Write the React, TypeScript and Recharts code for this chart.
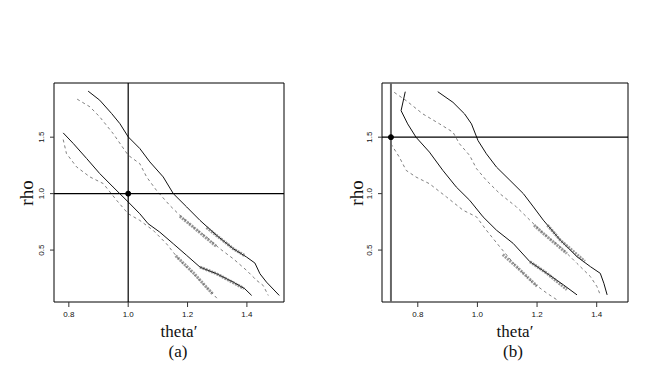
import React from "react"
import {
  ComposedChart, Line, XAxis, YAxis, ReferenceLine, ReferenceDot, ReferenceArea,
} from "recharts"

type Pt = { x: number; y: number }

// panel (a): contours around the (1.0, 1.0) point
const aOuterSolid: Pt[] = [
  { x: 0.865, y: 1.908 }, { x: 0.904, y: 1.828 }, { x: 0.944, y: 1.71 }, { x: 0.972, y: 1.62 },
  { x: 1.0, y: 1.503 }, { x: 1.039, y: 1.4 }, { x: 1.073, y: 1.281 }, { x: 1.118, y: 1.148 },
  { x: 1.152, y: 1.0 }, { x: 1.197, y: 0.882 }, { x: 1.242, y: 0.763 }, { x: 1.298, y: 0.63 },
  { x: 1.354, y: 0.512 }, { x: 1.399, y: 0.438 }, { x: 1.427, y: 0.385 }, { x: 1.444, y: 0.29 },
  { x: 1.466, y: 0.216 }, { x: 1.509, y: 0.098 },
]
const aOuterDashed: Pt[] = [
  { x: 0.828, y: 1.837 }, { x: 0.871, y: 1.769 }, { x: 0.904, y: 1.68 }, { x: 0.949, y: 1.533 },
  { x: 1.0, y: 1.34 }, { x: 1.039, y: 1.266 }, { x: 1.062, y: 1.148 }, { x: 1.095, y: 1.03 },
  { x: 1.14, y: 0.896 }, { x: 1.174, y: 0.808 }, { x: 1.219, y: 0.704 }, { x: 1.264, y: 0.615 },
  { x: 1.309, y: 0.512 }, { x: 1.354, y: 0.423 }, { x: 1.399, y: 0.32 }, { x: 1.433, y: 0.231 },
  { x: 1.455, y: 0.186 }, { x: 1.472, y: 0.098 },
]
const aInnerSolid: Pt[] = [
  { x: 0.781, y: 1.538 }, { x: 0.815, y: 1.444 }, { x: 0.86, y: 1.311 }, { x: 0.904, y: 1.178 },
  { x: 0.949, y: 1.059 }, { x: 1.0, y: 0.926 }, { x: 1.039, y: 0.822 }, { x: 1.067, y: 0.734 },
  { x: 1.106, y: 0.66 }, { x: 1.152, y: 0.556 }, { x: 1.197, y: 0.453 }, { x: 1.242, y: 0.349 },
  { x: 1.298, y: 0.29 }, { x: 1.354, y: 0.216 }, { x: 1.393, y: 0.157 }, { x: 1.416, y: 0.098 },
]
const aInnerDashed: Pt[] = [
  { x: 0.781, y: 1.479 }, { x: 0.792, y: 1.355 }, { x: 0.826, y: 1.237 }, { x: 0.871, y: 1.148 },
  { x: 0.916, y: 1.089 }, { x: 0.961, y: 0.941 }, { x: 1.0, y: 0.822 }, { x: 1.039, y: 0.763 },
  { x: 1.084, y: 0.675 }, { x: 1.129, y: 0.556 }, { x: 1.174, y: 0.408 }, { x: 1.219, y: 0.29 },
  { x: 1.264, y: 0.172 }, { x: 1.303, y: 0.062 },
]
// smudged in-line contour labels
const aLabels: Pt[][] = [
  [{ x: 1.174, y: 0.8 }, { x: 1.219, y: 0.704 }, { x: 1.298, y: 0.53 }],
  [{ x: 1.264, y: 0.7 }, { x: 1.354, y: 0.512 }, { x: 1.393, y: 0.45 }],
  [{ x: 1.242, y: 0.349 }, { x: 1.298, y: 0.29 }, { x: 1.39, y: 0.16 }],
  [{ x: 1.16, y: 0.45 }, { x: 1.219, y: 0.3 }, { x: 1.285, y: 0.11 }],
]

// panel (b): contours around the (0.71, 1.5) point
const bOuterSolid: Pt[] = [
  { x: 0.867, y: 1.903 }, { x: 0.918, y: 1.809 }, { x: 0.957, y: 1.706 }, { x: 0.98, y: 1.618 },
  { x: 1.002, y: 1.47 }, { x: 1.03, y: 1.353 }, { x: 1.064, y: 1.235 }, { x: 1.109, y: 1.118 },
  { x: 1.154, y: 1.0 }, { x: 1.188, y: 0.882 }, { x: 1.221, y: 0.765 }, { x: 1.278, y: 0.588 },
  { x: 1.334, y: 0.441 }, { x: 1.379, y: 0.353 }, { x: 1.412, y: 0.294 }, { x: 1.424, y: 0.206 },
  { x: 1.435, y: 0.103 },
]
const bOuterDashed: Pt[] = [
  { x: 0.721, y: 1.897 }, { x: 0.761, y: 1.824 }, { x: 0.817, y: 1.706 }, { x: 0.873, y: 1.618 },
  { x: 0.918, y: 1.544 }, { x: 0.94, y: 1.441 }, { x: 0.974, y: 1.338 }, { x: 0.997, y: 1.221 },
  { x: 1.03, y: 1.118 }, { x: 1.075, y: 1.0 }, { x: 1.131, y: 0.882 }, { x: 1.176, y: 0.765 },
  { x: 1.221, y: 0.647 }, { x: 1.278, y: 0.529 }, { x: 1.334, y: 0.382 }, { x: 1.379, y: 0.265 },
  { x: 1.401, y: 0.176 }, { x: 1.412, y: 0.103 },
]
const bInnerSolid: Pt[] = [
  { x: 0.758, y: 1.903 }, { x: 0.744, y: 1.735 }, { x: 0.766, y: 1.618 }, { x: 0.794, y: 1.5 },
  { x: 0.839, y: 1.368 }, { x: 0.884, y: 1.206 }, { x: 0.929, y: 1.059 }, { x: 0.974, y: 0.941 },
  { x: 1.019, y: 0.794 }, { x: 1.064, y: 0.676 }, { x: 1.12, y: 0.559 }, { x: 1.176, y: 0.397 },
  { x: 1.233, y: 0.294 }, { x: 1.289, y: 0.191 }, { x: 1.334, y: 0.103 },
]
const bInnerDashed: Pt[] = [
  { x: 0.71, y: 1.441 }, { x: 0.738, y: 1.324 }, { x: 0.761, y: 1.206 }, { x: 0.794, y: 1.147 },
  { x: 0.839, y: 1.088 }, { x: 0.896, y: 0.971 }, { x: 0.952, y: 0.853 }, { x: 0.997, y: 0.794 },
  { x: 1.03, y: 0.676 }, { x: 1.075, y: 0.529 }, { x: 1.131, y: 0.353 }, { x: 1.188, y: 0.206 },
  { x: 1.233, y: 0.118 }, { x: 1.267, y: 0.059 },
]
const bLabels: Pt[][] = [
  [{ x: 1.235, y: 0.72 }, { x: 1.278, y: 0.588 }, { x: 1.36, y: 0.4 }],
  [{ x: 1.19, y: 0.72 }, { x: 1.221, y: 0.647 }, { x: 1.3, y: 0.47 }],
  [{ x: 1.176, y: 0.397 }, { x: 1.233, y: 0.294 }, { x: 1.3, y: 0.15 }],
  [{ x: 1.085, y: 0.46 }, { x: 1.131, y: 0.353 }, { x: 1.2, y: 0.18 }],
]

const xTicks = [0.8, 1.0, 1.2, 1.4]
const yTicks = [0.5, 1.0, 1.5]

const tickFont = "'Liberation Sans', Arial, sans-serif"
const serif = "'Liberation Serif', 'Times New Roman', serif"

const XTick = (props: any) => {
  const { x, y, payload } = props
  return (
    <text x={x} y={y + 8} textAnchor="middle" fontSize={8} fontFamily={tickFont} fill="#111">
      {payload.value.toFixed(1)}
    </text>
  )
}

const YTick = (props: any) => {
  const { x, y, payload } = props
  return (
    <text
      x={x - 6}
      y={y}
      transform={`rotate(-90, ${x - 6}, ${y})`}
      textAnchor="middle"
      dominantBaseline="central"
      fontSize={8}
      fontFamily={tickFont}
      fill="#111"
    >
      {payload.value.toFixed(1)}
    </text>
  )
}

interface PanelProps {
  xDomain: [number, number]
  yDomain: [number, number]
  outerSolid: Pt[]
  outerDashed: Pt[]
  innerSolid: Pt[]
  innerDashed: Pt[]
  labels: Pt[][]
  point: Pt
  marginLeft: number
  marginRight: number
  vColor: string
  vWidth: number
}

function Panel(p: PanelProps) {
  const solid = (data: Pt[], key: string) => (
    <Line key={key} data={data} dataKey="y" type="linear" stroke="#111" strokeWidth={1}
      dot={false} isAnimationActive={false} />
  )
  const dashed = (data: Pt[], key: string) => (
    <Line key={key} data={data} dataKey="y" type="linear" stroke="#808080" strokeWidth={1}
      strokeDasharray="3 3" dot={false} isAnimationActive={false} />
  )
  return (
    <ComposedChart
      width={333}
      height={379}
      margin={{ top: 83, right: p.marginRight, bottom: 47, left: p.marginLeft }}
    >
      <XAxis type="number" dataKey="x" domain={p.xDomain} ticks={xTicks} allowDataOverflow
        axisLine={false} tickSize={5} tickLine={{ stroke: "#333" }} tick={<XTick />} height={30} />
      <YAxis type="number" dataKey="y" domain={p.yDomain} ticks={yTicks} allowDataOverflow
        axisLine={false} tickSize={4} tickLine={{ stroke: "#333" }} tick={<YTick />} width={30} />
      <ReferenceArea x1={p.xDomain[0]} x2={p.xDomain[1]} y1={p.yDomain[0]} y2={p.yDomain[1]}
        fill="none" stroke="#000" strokeWidth={1} ifOverflow="visible" />
      {solid(p.outerSolid, "os")}
      {dashed(p.outerDashed, "od")}
      {solid(p.innerSolid, "is")}
      {dashed(p.innerDashed, "id")}
      {p.labels.map((seg, i) => (
        <Line key={`lab-${i}`} data={seg} dataKey="y" type="linear" stroke="#555"
          strokeOpacity={0.6} strokeWidth={3} strokeDasharray="2 1" dot={false}
          isAnimationActive={false} />
      ))}
      <ReferenceLine x={p.point.x} stroke={p.vColor} strokeWidth={p.vWidth} />
      <ReferenceLine y={p.point.y} stroke="#000" strokeWidth={1.2} />
      <ReferenceDot x={p.point.x} y={p.point.y} r={2.5} fill="#000" stroke="#000" />
    </ComposedChart>
  )
}

export default function App() {
  return (
    <div style={{ position: "absolute", left: 0, top: 0, width: 666, height: 379, background: "#fff" }}>
      <div style={{ position: "absolute", left: 0, top: 0 }}>
        <Panel
          xDomain={[0.75, 1.525]}
          yDomain={[0.04, 1.98]}
          outerSolid={aOuterSolid}
          outerDashed={aOuterDashed}
          innerSolid={aInnerSolid}
          innerDashed={aInnerDashed}
          labels={aLabels}
          point={{ x: 1.0, y: 1.0 }}
          marginLeft={24}
          marginRight={49}
          vColor="#000"
          vWidth={1.2}
        />
      </div>
      <div style={{ position: "absolute", left: 333, top: 0 }}>
        <Panel
          xDomain={[0.68, 1.505]}
          yDomain={[0.04, 1.98]}
          outerSolid={bOuterSolid}
          outerDashed={bOuterDashed}
          innerSolid={bInnerSolid}
          innerDashed={bInnerDashed}
          labels={bLabels}
          point={{ x: 0.71, y: 1.5 }}
          marginLeft={19}
          marginRight={38}
          vColor="#666"
          vWidth={2}
        />
      </div>

      <svg width={666} height={379} style={{ position: "absolute", left: 0, top: 0, pointerEvents: "none" }}>
        <g fontFamily={serif} fill="#111">
          <text x={33} y={193} fontSize={19} textAnchor="middle" transform="rotate(-90, 33, 193)">rho</text>
          <text x={363} y={193} fontSize={19} textAnchor="middle" transform="rotate(-90, 363, 193)">rho</text>
          <text x={179} y={337} fontSize={17} textAnchor="middle">theta′</text>
          <text x={178} y={357} fontSize={17} textAnchor="middle">(a)</text>
          <text x={515} y={337} fontSize={17} textAnchor="middle">theta′</text>
          <text x={513} y={357} fontSize={17} textAnchor="middle">(b)</text>
        </g>
      </svg>
    </div>
  )
}
